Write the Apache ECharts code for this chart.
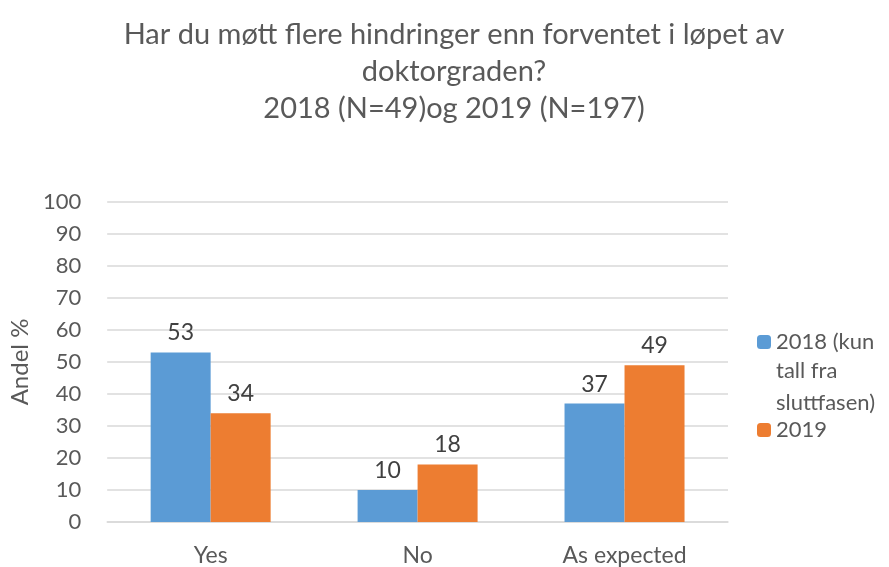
<!DOCTYPE html>
<html lang="no">
<head>
<meta charset="UTF-8">
<title>Hindringer</title>
<script src="https://cdn.jsdelivr.net/npm/echarts@6/dist/echarts.min.js"></script>
<style>
  html, body { margin: 0; padding: 0; background: #fff; }
  #chart { width: 889px; height: 567px; }
</style>
</head>
<body>
<div id="chart"></div>
<script>
var categories = ['Yes', 'No', 'As expected'];
var values2018 = [53, 10, 37];
var values2019 = [34, 18, 49];
var seriesNames = ['2018 (kun', '2019'];
// the rest of the wrapped 2018 legend entry, drawn under its first line
var legendTail = 'tall fra\nsluttfasen)';

var font = 'Lato, "Noto Sans", sans-serif';
var chart = echarts.init(document.getElementById('chart'));

var labelStyle = {
    show: true,
    position: 'top',
    distance: 8,
    color: '#404040',
    fontSize: 23,
    fontFamily: font
};

chart.setOption({
    animation: false,
    title: {
        text: 'Har du møtt flere hindringer enn forventet i løpet av\ndoktorgraden?\n2018 (N=49)og 2019 (N=197)',
        left: 449,
        textAlign: 'center',
        top: 11,
        textStyle: {
            color: '#595959',
            fontSize: 29,
            fontWeight: 'normal',
            fontFamily: font,
            lineHeight: 37
        }
    },
    legend: {
        orient: 'vertical',
        left: 752,
        top: 321,
        itemWidth: 14,
        itemHeight: 14,
        itemGap: 56,
        data: seriesNames,
        textStyle: {
            color: '#595959',
            fontSize: 22,
            fontFamily: font,
            lineHeight: 32
        }
    },
    graphic: [{
        type: 'text',
        left: 776,
        top: 355,
        style: {
            text: legendTail,
            fill: '#595959',
            font: '22px ' + font,
            lineHeight: 32
        }
    }],
    grid: {
        left: 106,
        right: 161,
        top: 202,
        bottom: 44
    },
    xAxis: {
        type: 'category',
        data: categories,
        axisLine: { lineStyle: { color: '#d9d9d9', width: 1.5 } },
        axisTick: { show: false },
        axisLabel: {
            color: '#595959',
            fontSize: 23,
            fontFamily: font,
            margin: 22
        }
    },
    yAxis: {
        type: 'value',
        min: 0,
        max: 100,
        interval: 10,
        name: 'Andel %',
        nameLocation: 'middle',
        nameGap: 72,
        nameTextStyle: {
            color: '#595959',
            fontSize: 24,
            fontFamily: font
        },
        axisLine: { show: false },
        axisTick: { show: false },
        splitLine: { lineStyle: { color: '#d9d9d9', width: 1.5 } },
        axisLabel: {
            color: '#595959',
            fontSize: 22,
            fontFamily: font,
            margin: 26
        }
    },
    series: [
        {
            name: seriesNames[0],
            type: 'bar',
            data: values2018,
            barWidth: 60,
            barGap: '0%',
            itemStyle: { color: '#5b9bd5' },
            label: labelStyle
        },
        {
            name: seriesNames[1],
            type: 'bar',
            data: values2019,
            barWidth: 60,
            itemStyle: { color: '#ed7d31' },
            label: labelStyle
        }
    ]
});
</script>
</body>
</html>
